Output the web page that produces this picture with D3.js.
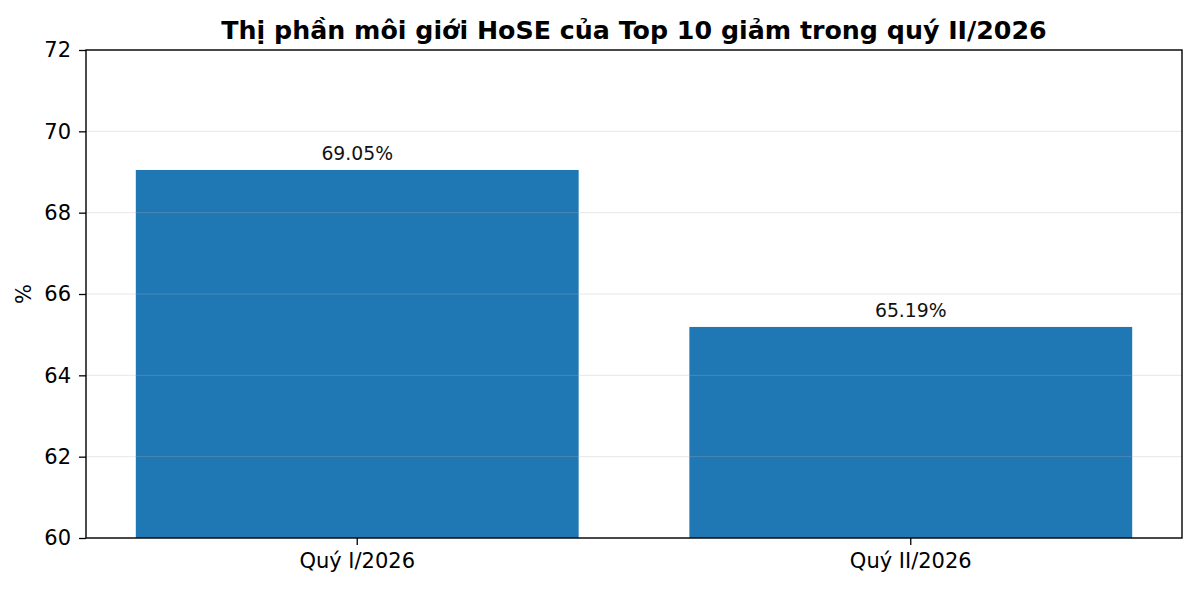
<!DOCTYPE html>
<html>
<head>
<meta charset="utf-8">
<script src="https://cdn.jsdelivr.net/npm/d3@7"></script>
<style>
  body { margin: 0; background: #fff; }
  text { font-family: "DejaVu Sans", sans-serif; }
</style>
</head>
<body>
<div id="chart"></div>
<script>
// DATA
const quarters = ["Quý I/2026", "Quý II/2026"]
const shares = [69.05, 65.19]
const yTicks = [60, 62, 64, 66, 68, 70, 72]

const width = 1200, height = 590
const margin = { top: 50, right: 18, bottom: 52, left: 86 }
const innerWidth = width - margin.left - margin.right
const innerHeight = height - margin.top - margin.bottom

const xScale = d3.scaleBand()
  .domain(quarters)
  .range([0, innerWidth])
  .paddingInner(0.2)
  .paddingOuter(0.09)

const yScale = d3.scaleLinear()
  .domain([60, 72])
  .range([innerHeight, 0])

const svg = d3.select("#chart")
  .append("svg")
  .attr("width", width)
  .attr("height", height)

const g = svg.append("g")
  .attr("transform", `translate(${margin.left},${margin.top})`)

// DRAW BARS
g.selectAll("rect.bar")
  .data(quarters)
  .join("rect")
    .attr("class", "bar")
    .attr("x", d => xScale(d))
    .attr("y", (d, i) => yScale(shares[i]))
    .attr("width", xScale.bandwidth())
    .attr("height", (d, i) => innerHeight - yScale(shares[i]))
    .attr("fill", "#1f77b4")

// grid on top of bars, like the original
g.selectAll("line.grid")
  .data(yTicks)
  .join("line")
    .attr("class", "grid")
    .attr("x1", 0)
    .attr("x2", innerWidth)
    .attr("y1", d => yScale(d))
    .attr("y2", d => yScale(d))
    .attr("stroke", "#b0b0b0")
    .attr("stroke-opacity", 0.3)
    .attr("stroke-width", 1)

// value labels
g.selectAll("text.val")
  .data(quarters)
  .join("text")
    .attr("class", "val")
    .attr("x", d => xScale(d) + xScale.bandwidth() / 2)
    .attr("y", (d, i) => yScale(shares[i]) - 10)
    .attr("text-anchor", "middle")
    .attr("font-size", "18.8px")
    .attr("fill", "#111")
    .text((d, i) => shares[i].toFixed(2) + "%")

// AXES
const yAxis = d3.axisLeft(yScale).tickValues(yTicks).tickSize(7).tickPadding(8)
const xAxis = d3.axisBottom(xScale).tickSize(7).tickPadding(8)

const gy = g.append("g").call(yAxis)
gy.select(".domain").remove()
gy.selectAll("text").attr("font-size", "21px").attr("fill", "#000")
gy.selectAll(".tick line").attr("stroke", "#000").attr("stroke-width", 1.3)

const gx = g.append("g")
  .attr("transform", `translate(0,${innerHeight})`)
  .call(xAxis)
gx.select(".domain").remove()
gx.selectAll("text").attr("font-size", "21px").attr("fill", "#000")
gx.selectAll(".tick line").attr("stroke", "#000").attr("stroke-width", 1.3)

// frame
g.append("rect")
  .attr("width", innerWidth)
  .attr("height", innerHeight)
  .attr("fill", "none")
  .attr("stroke", "#000")
  .attr("stroke-width", 1.4)

// y label
svg.append("text")
  .attr("transform", `translate(31,${margin.top + innerHeight / 2}) rotate(-90)`)
  .attr("text-anchor", "middle")
  .attr("font-size", "21px")
  .text("%")

// title
svg.append("text")
  .attr("x", margin.left + innerWidth / 2)
  .attr("y", 39)
  .attr("text-anchor", "middle")
  .attr("font-size", "25.3px")
  .attr("font-weight", "bold")
  .text("Thị phần môi giới HoSE của Top 10 giảm trong quý II/2026")
</script>
</body>
</html>
